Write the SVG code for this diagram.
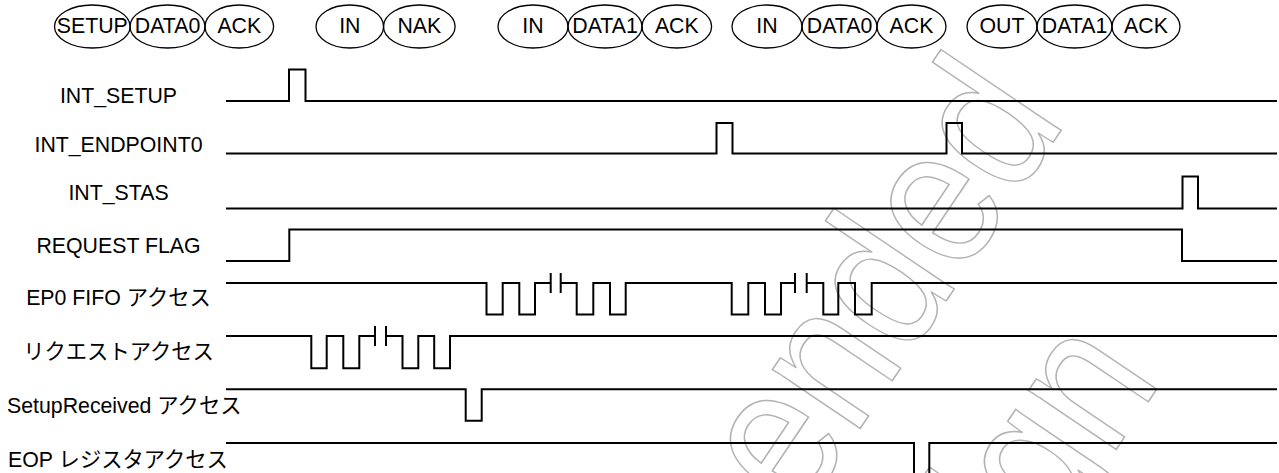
<svg xmlns="http://www.w3.org/2000/svg" width="1279" height="473" viewBox="0 0 1279 473">
  <style>
    .wm { font-family: "Liberation Sans", Arial, sans-serif; font-size: 200px; fill: none; stroke: #b3b3b3; stroke-width: 1.6; }
    .pk { fill: none; stroke: #000; stroke-width: 1.3; }
    .pt { font-family: "Liberation Sans", Arial, sans-serif; font-size: 21.3px; fill: #000; text-anchor: middle; }
    .lbl { font-family: "Liberation Sans", Arial, "Noto Sans CJK JP", sans-serif; font-size: 21.3px; fill: #000; }
    .c { text-anchor: middle; }
    .sig { fill: none; stroke: #000; stroke-width: 2; stroke-linejoin: miter; stroke-linecap: butt; }
  </style>
  <rect width="1279" height="473" fill="#fff"/>

  <g id="watermark">
    <text class="wm" text-anchor="end" transform="translate(1067.5,121) rotate(-56) scale(0.86,1)">Not Recommended</text>
    <text class="wm" text-anchor="end" transform="translate(1163,380) rotate(-56) scale(0.86,1)">for New Design</text>
  </g>

  <g id="packets">
    <g id="pk-setup"><ellipse class="pk" cx="92.3" cy="26.5" rx="37.8" ry="21.5"/><text class="pt" x="92.3" y="32.5">SETUP</text></g>
    <g id="pk-data0-1"><ellipse class="pk" cx="167.5" cy="26.5" rx="37.5" ry="21.5"/><text class="pt" x="167.5" y="32.5">DATA0</text></g>
    <g id="pk-ack-1"><ellipse class="pk" cx="239.3" cy="26.5" rx="34.3" ry="21.5"/><text class="pt" x="239.3" y="32.5">ACK</text></g>
    <g id="pk-in-1"><ellipse class="pk" cx="349.8" cy="26.5" rx="33.8" ry="21.5"/><text class="pt" x="349.8" y="32.5">IN</text></g>
    <g id="pk-nak"><ellipse class="pk" cx="419.3" cy="26.5" rx="35.8" ry="21.5"/><text class="pt" x="419.3" y="32.5">NAK</text></g>
    <g id="pk-in-2"><ellipse class="pk" cx="533" cy="26.5" rx="35" ry="21.5"/><text class="pt" x="533" y="32.5">IN</text></g>
    <g id="pk-data1-1"><ellipse class="pk" cx="605" cy="26.5" rx="37" ry="21.5"/><text class="pt" x="605" y="32.5">DATA1</text></g>
    <g id="pk-ack-2"><ellipse class="pk" cx="676.8" cy="26.5" rx="34.8" ry="21.5"/><text class="pt" x="676.8" y="32.5">ACK</text></g>
    <g id="pk-in-3"><ellipse class="pk" cx="767" cy="26.5" rx="35" ry="21.5"/><text class="pt" x="767" y="32.5">IN</text></g>
    <g id="pk-data0-2"><ellipse class="pk" cx="839.5" cy="26.5" rx="37.5" ry="21.5"/><text class="pt" x="839.5" y="32.5">DATA0</text></g>
    <g id="pk-ack-3"><ellipse class="pk" cx="911.5" cy="26.5" rx="34.5" ry="21.5"/><text class="pt" x="911.5" y="32.5">ACK</text></g>
    <g id="pk-out"><ellipse class="pk" cx="1002" cy="26.5" rx="35" ry="21.5"/><text class="pt" x="1002" y="32.5">OUT</text></g>
    <g id="pk-data1-2"><ellipse class="pk" cx="1074.5" cy="26.5" rx="37.5" ry="21.5"/><text class="pt" x="1074.5" y="32.5">DATA1</text></g>
    <g id="pk-ack-4"><ellipse class="pk" cx="1146" cy="26.5" rx="34" ry="21.5"/><text class="pt" x="1146" y="32.5">ACK</text></g>
  </g>

  <g id="sig-int-setup">
    <text class="lbl c" x="118.5" y="103">INT_SETUP</text>
    <path class="sig" d="M226,101 H289 V69.5 H305.5 V101 H1277"/>
  </g>
  <g id="sig-int-endpoint0">
    <text class="lbl c" x="118.5" y="151.5">INT_ENDPOINT0</text>
    <path class="sig" d="M226,153.5 H716.5 V123 H732.5 V153.5 H946.5 V123 H962 V153.5 H1277"/>
  </g>
  <g id="sig-int-stas">
    <text class="lbl c" x="118.5" y="200">INT_STAS</text>
    <path class="sig" d="M226,208.5 H1182.5 V176.5 H1198 V208.5 H1277"/>
  </g>
  <g id="sig-request-flag">
    <text class="lbl c" x="118.5" y="253.3">REQUEST FLAG</text>
    <path class="sig" d="M226,261 H289.3 V229.5 H1182 V261 H1277"/>
  </g>
  <g id="sig-ep0-fifo">
    <text class="lbl c" x="118.5" y="305">EP0 FIFO アクセス</text>
    <path class="sig" d="M226,283 H486.5 V314.5 H502.7 V283 H519.3 V314.5 H535 V283 H550.7 M550.7,273 V293 M560.7,273 V293 M560.7,283 H576.7 V314.5 H593.3 V283 H610 V314.5 H625.7 V283 H731.7 V314.5 H748.3 V283 H765 V314.5 H781 V283 H795 M795,273 V293 M806.7,273 V293 M806.7,283 H823.3 V314.5 H838.3 V283 H855 V314.5 H871.7 V283 H1277"/>
  </g>
  <g id="sig-request-access">
    <text class="lbl c" x="118.5" y="358.5">リクエストアクセス</text>
    <path class="sig" d="M226,336 H311.3 V368.3 H326.7 V336 H343.3 V368.3 H359.3 V336 H375 M375,326 V346 M386,326 V346 M386,336 H402.5 V368.3 H418.3 V336 H434.2 V368.3 H450 V336 H1277"/>
  </g>
  <g id="sig-setupreceived">
    <text class="lbl" x="7" y="413">SetupReceived アクセス</text>
    <path class="sig" d="M226,389.3 H465.7 V420.7 H481.7 V389.3 H1277"/>
  </g>
  <g id="sig-eop">
    <text class="lbl c" x="118" y="466.5">EOP レジスタアクセス</text>
    <path class="sig" d="M226,443 H914 V480 M929.3,480 V443 H1277"/>
  </g>
</svg>
